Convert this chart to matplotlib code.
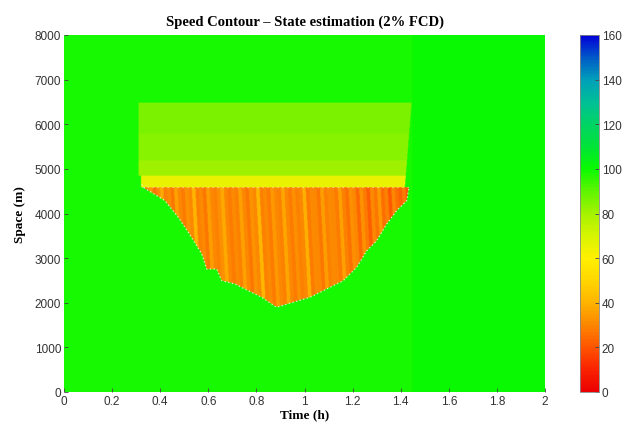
import numpy as np
import matplotlib
matplotlib.use("Agg")
from matplotlib import pyplot as plt
from matplotlib.colors import LinearSegmentedColormap

# colour scale (speed km/h -> rgb)
CMAP_LEVELS = [0, 10, 20, 30, 40, 50, 60, 70, 80, 90, 100, 110, 120, 130, 140, 150, 160]
CMAP_RGB = [(235, 0, 0), (250, 35, 0), (255, 85, 0), (252, 135, 0), (255, 180, 0),
            (255, 215, 0), (255, 240, 0), (215, 245, 0), (165, 242, 0), (95, 245, 0),
            (10, 250, 0), (0, 228, 55), (0, 212, 100), (0, 192, 150), (0, 160, 185),
            (0, 90, 200), (0, 0, 215)]

# free-flow speed before / after the jam dissolves
FREE_T = [0.0, 1.45, 2.0]
FREE_SPEED = [98.5, 100]

# upstream slower band above the bottleneck
BAND_EDGES = [4860, 5200, 5800, 6500]
BAND_SPEED = [81, 84, 86]
BAND_START = 0.31
BAND_END_S = [4600, 6500]
BAND_END_T = [1.418, 1.446]

# bottleneck head and transition strip
HEAD = 4600
TRANS_TOP = 4860
TRANS_SPEED = 65

# queue tail (time h, space m)
QUEUE_T = [0.323, 0.337, 0.420, 0.475, 0.517, 0.573, 0.593, 0.635, 0.656, 0.711,
           0.766, 0.822, 0.884, 0.953, 1.023, 1.092, 1.161, 1.217, 1.259, 1.300,
           1.342, 1.383, 1.425, 1.435]
QUEUE_TAIL = [4650, 4560, 4287, 3915, 3579, 3092, 2756, 2756, 2494, 2420,
              2270, 2122, 1898, 2010, 2122, 2308, 2494, 2794, 3166, 3390,
              3765, 4063, 4287, 4600]

# speeds inside the jam, one per stop-and-go wave
WAVE_SPEED = [22, 28, 34, 26, 30, 38, 29, 31, 27, 36, 30, 28, 33, 30, 40, 29,
              31, 27, 35, 30, 29, 32, 38, 30, 28, 31, 29, 36, 30, 27, 33, 30,
              41, 29, 31, 28, 34, 30, 29, 37, 30, 28, 32, 29, 30, 39, 28, 31,
              30, 27, 35, 29, 31, 30, 28, 36, 29, 26, 32, 30, 24, 33, 28, 22,
              31, 27, 34, 25, 29, 21, 30, 26, 23, 28, 20]
WAVE_TILT = 0.010  # h per 1000 m

cmap = LinearSegmentedColormap.from_list(
    "speed", [(l / 160, tuple(c / 255 for c in rgb)) for l, rgb in zip(CMAP_LEVELS, CMAP_RGB)])

t = np.linspace(0, 2, 961)
s = np.linspace(0, 8000, 401)
T, S = np.meshgrid(t, s)

V = np.where(T < FREE_T[1], FREE_SPEED[0], FREE_SPEED[1]).astype(float)

band_end = np.interp(S, BAND_END_S, BAND_END_T)
in_band = (S >= BAND_EDGES[0]) & (S < BAND_EDGES[-1]) & (T >= BAND_START) & (T <= band_end)
band_idx = np.clip(np.searchsorted(BAND_EDGES, S, side="right") - 1, 0, len(BAND_SPEED) - 1)
V[in_band] = np.array(BAND_SPEED)[band_idx[in_band]]

in_trans = (S >= HEAD) & (S < TRANS_TOP) & (T >= BAND_START + 0.01) & (T <= band_end)
V[in_trans] = TRANS_SPEED

tail = np.interp(T, QUEUE_T, QUEUE_TAIL)
in_jam = (S < HEAD) & (S > tail) & (T >= QUEUE_T[0]) & (T <= QUEUE_T[-1])
phase = T - (HEAD - S) * WAVE_TILT / 1000
width = (QUEUE_T[-1] - QUEUE_T[0]) / len(WAVE_SPEED)
wave_idx = np.clip(((phase - QUEUE_T[0]) / width).astype(int), 0, len(WAVE_SPEED) - 1)
V[in_jam] = np.array(WAVE_SPEED)[wave_idx[in_jam]]

fig = plt.figure(figsize=(6.33, 4.31), dpi=100)
ax = fig.add_axes([64 / 633, 38 / 431, 481 / 633, 357 / 431])
cax = fig.add_axes([580 / 633, 38 / 431, 19 / 633, 357 / 431])

im = ax.imshow(V, origin="lower", extent=[0, 2, 0, 8000], aspect="auto",
               cmap=cmap, vmin=0, vmax=160, interpolation="bilinear")
ax.plot(QUEUE_T, QUEUE_TAIL, color="white", lw=0.9, ls=(0, (1, 2)), alpha=0.8)
ax.plot([QUEUE_T[0], QUEUE_T[-1]], [HEAD, HEAD], color="white", lw=0.9, ls=(0, (1, 3)), alpha=0.6)

ax.set_xlim(0, 2)
ax.set_ylim(0, 8000)
ax.set_xticks(np.arange(0, 2.01, 0.2))
ax.set_xticklabels(["0", "0.2", "0.4", "0.6", "0.8", "1", "1.2", "1.4", "1.6", "1.8", "2"])
ax.set_yticks(np.arange(0, 8001, 1000))
for sp in ax.spines.values():
    sp.set_visible(False)
ax.tick_params(direction="in", length=3, width=0.6, color="#444444",
               labelsize=8.5, labelcolor="#333333", pad=2)

serif = ["Liberation Serif", "DejaVu Serif"]
sans = ["Liberation Sans", "DejaVu Sans"]
for lab in ax.get_xticklabels() + ax.get_yticklabels():
    lab.set_family(sans)

ax.set_title("Speed Contour \u2013 State estimation (2% FCD)", fontsize=10.5,
             fontweight="bold", family=serif, pad=7)
ax.set_xlabel("Time (h)", fontsize=9.5, fontweight="bold", family=serif, labelpad=1)
ax.set_ylabel("Space (m)", fontsize=9.5, fontweight="bold", family=serif, labelpad=6)

cb = fig.colorbar(im, cax=cax, ticks=np.arange(0, 161, 20))
cb.outline.set_linewidth(0.6)
cb.outline.set_edgecolor("#888888")
cax.tick_params(direction="in", length=3, width=0.6, color="#444444",
                labelsize=8.5, labelcolor="#333333", pad=2)
for lab in cax.get_yticklabels():
    lab.set_family(sans)

fig.savefig("out.png", dpi=100)
